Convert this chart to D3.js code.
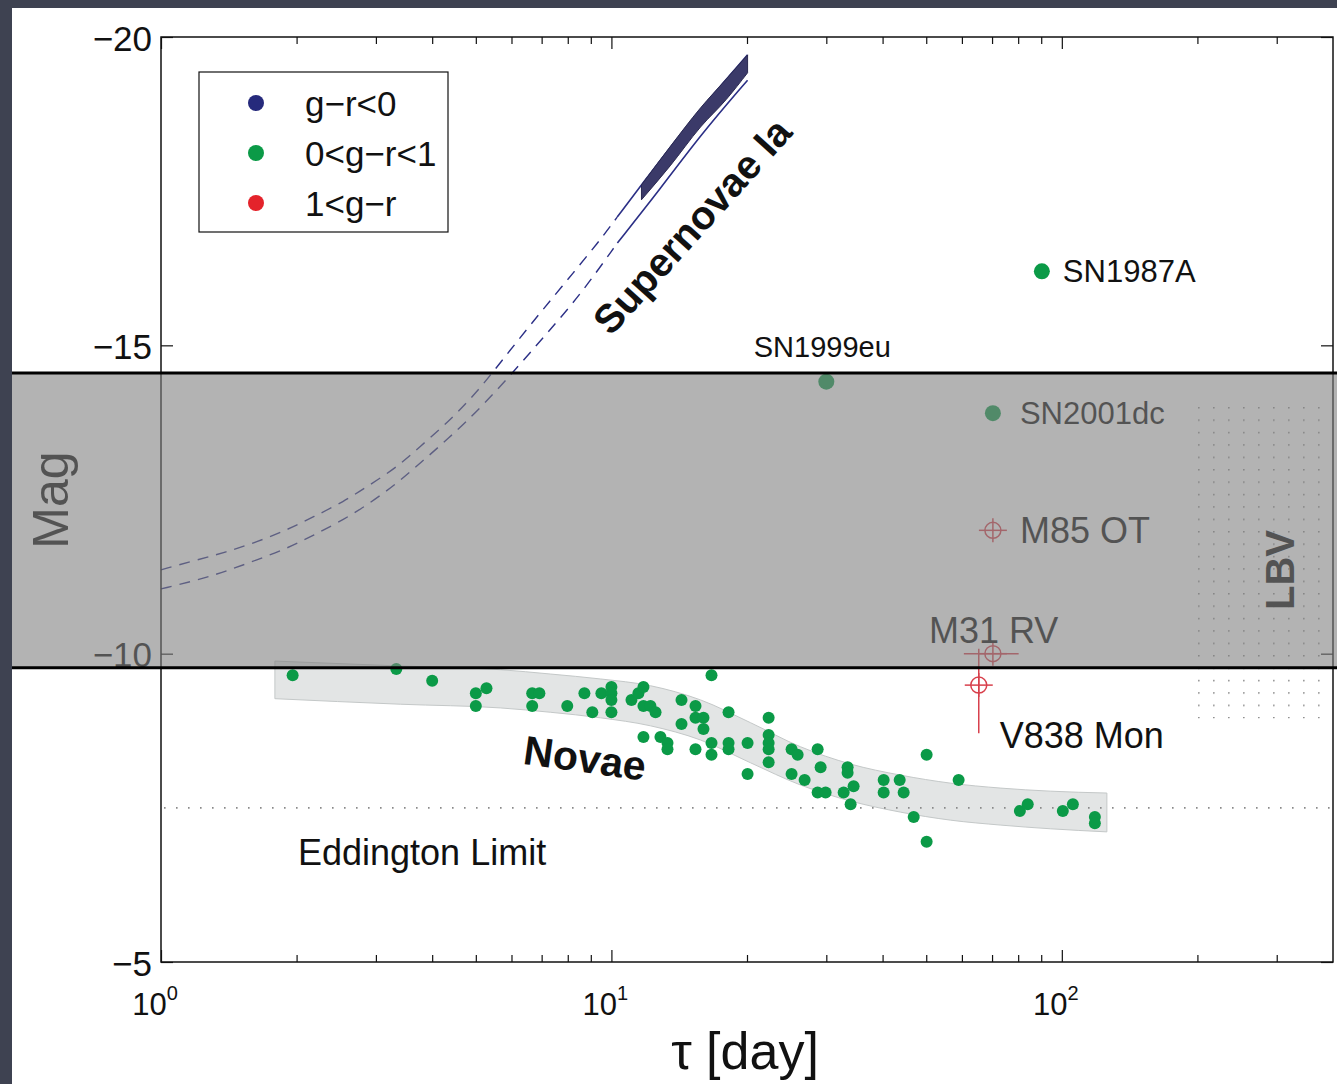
<!DOCTYPE html>
<html>
<head>
<meta charset="utf-8">
<script src="https://cdn.jsdelivr.net/npm/d3@7"></script>
<style>
  html, body { margin: 0; padding: 0; background: #3e4251; }
  svg { display: block; }
  text { font-family: "Liberation Sans", Arial, Helvetica, sans-serif; }
</style>
</head>
<body>
<svg id="chart" width="1337" height="1084"></svg>
<script>
// ---- data ----
const xTicksMajor = [1, 10, 100];
const xTickExp = ["0", "1", "2"];
const xTicksMinor = [2, 3, 4, 5, 6, 7, 8, 9, 20, 30, 40, 50, 60, 70, 80, 90, 200, 300];
const yTicks = [-20, -15, -10, -5];

const legendLabels = ["g\u2212r<0", "0<g\u2212r<1", "1<g\u2212r"];
const legendColors = ["#262a7c", "#0b9a47", "#e4232b"];

// classical novae (green dots)
const novaTau = [1.96, 3.33, 4.0, 5.0, 5.28, 5.0, 6.67, 6.92, 6.67, 7.98, 8.71, 9.07, 9.5,
  10.0, 10.0, 10.0, 10.0, 11.08, 11.48, 11.78, 11.78, 12.21, 12.53, 11.78, 12.85, 13.32, 13.32,
  14.31, 14.31, 15.37, 15.37, 16.01, 16.01, 16.68, 16.68, 16.68, 15.37, 18.2, 18.2, 18.2,
  20.06, 20.06, 22.34, 22.34, 22.34, 22.34, 22.34, 25.12, 25.91, 25.12, 26.85, 28.7, 29.14,
  28.7, 29.89, 32.78, 33.45, 33.45, 34.49, 33.97, 40.22, 40.22, 43.65, 44.55, 46.9, 50.1,
  50.1, 59.0, 80.7, 84.0, 100.5, 105.8, 118.4, 118.4];
const novaMag = [-9.65, -9.75, -9.56, -9.36, -9.44, -9.15, -9.36, -9.36, -9.15, -9.15, -9.36, -9.05, -9.36,
  -9.46, -9.36, -9.25, -9.05, -9.25, -9.36, -9.46, -9.15, -9.15, -9.05, -8.65, -8.65, -8.55, -8.45,
  -9.25, -8.86, -9.15, -8.96, -8.96, -8.78, -9.65, -8.55, -8.36, -8.45, -9.05, -8.55, -8.45,
  -8.55, -8.05, -8.96, -8.68, -8.55, -8.45, -8.24, -8.45, -8.36, -8.05, -7.95, -8.45, -8.16,
  -7.75, -7.75, -7.75, -8.16, -8.07, -7.85, -7.56, -7.95, -7.75, -7.95, -7.75, -7.35, -8.36,
  -6.95, -7.95, -7.45, -7.56, -7.45, -7.56, -7.35, -7.25];

// grey novae envelope
const novaBandTau = [1.79, 3.40, 5.67, 7.32, 9.45, 12.21, 15.77, 20.37, 26.3, 33.97, 43.87, 56.65, 73.2, 94.5, 125.9];
const novaBandTop = [-9.88, -9.80, -9.74, -9.67, -9.59, -9.48, -9.25, -8.88, -8.49, -8.21, -8.03, -7.90, -7.82, -7.77, -7.74];
const novaBandBottom = [-9.27, -9.18, -9.12, -9.05, -8.96, -8.83, -8.60, -8.23, -7.87, -7.61, -7.43, -7.30, -7.22, -7.16, -7.11];

// supernovae Ia rise tracks
const snUpperTau = [1.0, 1.2, 1.4, 1.63, 1.91, 2.18, 2.54, 2.91, 3.35, 3.76, 4.32, 5.0, 5.67, 6.6, 7.70, 9.45, 10.3, 11.66, 14.98, 20.06];
const snUpperMag = [-11.36, -11.52, -11.65, -11.81, -12.01, -12.22, -12.46, -12.74, -13.03, -13.36, -13.74, -14.22, -14.72, -15.33, -15.92, -16.71, -17.08, -17.60, -18.65, -19.71];
const snLowerTau = [1.0, 1.2, 1.4, 1.63, 1.91, 2.18, 2.54, 2.91, 3.35, 3.76, 4.32, 5.2, 6.28, 7.3, 8.53, 10.31, 12.85, 15.77, 20.06];
const snLowerMag = [-11.05, -11.19, -11.34, -11.52, -11.71, -11.92, -12.17, -12.44, -12.77, -13.09, -13.47, -14.03, -14.70, -15.25, -15.82, -16.66, -17.54, -18.41, -19.30];
const snSolidFrom = 10.3;
const snFillTau = [11.66, 13.5, 15.77, 18.0, 20.06];
const snFillTop = [-17.60, -18.22, -18.85, -19.32, -19.71];
const snFillBottom = [-17.36, -17.91, -18.54, -18.99, -19.42];

// named supernovae (green)
const snNames = ["SN1987A", "SN1999eu", "SN2001dc"];
const snTau = [90.3, 30.0, 70.3];
const snMag = [-16.2, -14.41, -13.9];

// red transients with error bars
const otNames = ["M85 OT", "M31 RV", "V838 Mon"];
const otTau = [70.3, 70.3, 65.4];
const otMag = [-12.0, -10.0, -9.49];
const otTauLo = [70.3, 60.6, 65.4];
const otTauHi = [70.3, 80.2, 65.4];
const otMagLo = [-12.0, -10.0, -10.08];
const otMagHi = [-12.0, -10.0, -8.71];

const eddingtonMag = -7.5;
const gapBand = [-14.55, -9.77];
const lbvTau = [193, 400];
const lbvMag = [-14.1, -8.95];

// ---- drawing ----
const svg = d3.select("#chart");
const W = 1337, H = 1084;
const green = "#0b9a47", red = "#d8404c", navy = "#2b2f86";

const x = d3.scaleLog().domain([1, 400]).range([161, 1333]);
const y = d3.scaleLinear().domain([-20, -5]).range([37, 962]);

// dark slide frame + white panel
svg.append("rect").attr("width", W).attr("height", H).attr("fill", "#3e4251");
svg.append("rect").attr("x", 12).attr("y", 8).attr("width", W - 12).attr("height", H - 8).attr("fill", "#fff");

const defs = svg.append("defs");
const pat = defs.append("pattern").attr("id", "lbvdots")
  .attr("patternUnits", "userSpaceOnUse").attr("width", 15).attr("height", 12.4)
  .attr("x", 1198).attr("y", 407);
pat.append("circle").attr("cx", 0.8).attr("cy", 0.8).attr("r", 0.9).attr("fill", "#8a8a8a");

// LBV region
svg.append("rect")
  .attr("x", x(lbvTau[0])).attr("y", y(lbvMag[0]))
  .attr("width", x(lbvTau[1]) - x(lbvTau[0]) - 2)
  .attr("height", y(lbvMag[1]) - y(lbvMag[0]))
  .attr("fill", "url(#lbvdots)");

// novae envelope
const bandData = novaBandTau.map((t, i) => ({t, top: novaBandTop[i], bot: novaBandBottom[i]}));
svg.append("path").datum(bandData)
  .attr("d", d3.area().x(d => x(d.t)).y0(d => y(d.bot)).y1(d => y(d.top)).curve(d3.curveMonotoneX))
  .attr("fill", "#e3e5e5").attr("stroke", "#c4c8c8").attr("stroke-width", 1);

// Eddington limit
svg.append("line")
  .attr("x1", x(1) + 3).attr("x2", x(400)).attr("y1", y(eddingtonMag)).attr("y2", y(eddingtonMag))
  .attr("stroke", "#8a8a8a").attr("stroke-width", 1.6).attr("stroke-dasharray", "1.6,10.4");

// SN Ia tracks
const line = d3.line().x(d => x(d.t)).y(d => y(d.m)).curve(d3.curveBasis);
[[snUpperTau, snUpperMag], [snLowerTau, snLowerMag]].forEach(([ts, ms]) => {
  const pts = ts.map((t, i) => ({t, m: ms[i]}));
  svg.append("path").datum(pts.filter(d => d.t <= snSolidFrom + 0.05))
    .attr("d", line).attr("fill", "none").attr("stroke", navy)
    .attr("stroke-width", 1.4).attr("stroke-dasharray", "11,8");
  svg.append("path").datum(pts.filter(d => d.t >= snSolidFrom - 0.05))
    .attr("d", line).attr("fill", "none").attr("stroke", navy).attr("stroke-width", 1.6);
});
const fillData = snFillTau.map((t, i) => ({t, top: snFillTop[i], bot: snFillBottom[i]}));
svg.append("path").datum(fillData)
  .attr("d", d3.area().x(d => x(d.t)).y0(d => y(d.bot)).y1(d => y(d.top)).curve(d3.curveMonotoneX))
  .attr("fill", "#3b3a69").attr("stroke", "#2a2950").attr("stroke-width", 1);

// novae dots
svg.append("g").selectAll("circle")
  .data(novaTau.map((t, i) => ({t, m: novaMag[i]})))
  .join("circle")
  .attr("cx", d => x(d.t)).attr("cy", d => y(d.m)).attr("r", 6).attr("fill", green);

// named SNe
const snOffsets = [[21, 11, "start", 31], [-4, -25, "middle", 29], [27, 11, "start", 31]];
const snG = svg.append("g");
snNames.forEach((n, i) => {
  snG.append("circle").attr("cx", x(snTau[i])).attr("cy", y(snMag[i])).attr("r", 8).attr("fill", green);
  const o = snOffsets[i];
  snG.append("text").attr("x", x(snTau[i]) + o[0]).attr("y", y(snMag[i]) + o[1])
    .attr("text-anchor", o[2]).attr("font-size", o[3]).attr("fill", "#111").text(n);
});

// red transients
const otOffsets = [[27, 13, "start"], [-64, -11, "start"], [21, 63, "start"]];
const otG = svg.append("g").attr("stroke", red).attr("fill", "none").attr("stroke-width", 1.5);
otNames.forEach((n, i) => {
  const cx = x(otTau[i]), cy = y(otMag[i]);
  otG.append("line").attr("x1", x(otTauLo[i])).attr("x2", x(otTauHi[i])).attr("y1", cy).attr("y2", cy);
  otG.append("line").attr("x1", cx).attr("x2", cx).attr("y1", y(otMagLo[i])).attr("y2", y(otMagHi[i]));
  otG.append("line").attr("x1", cx - 14).attr("x2", cx + 14).attr("y1", cy).attr("y2", cy);
  otG.append("line").attr("x1", cx).attr("x2", cx).attr("y1", cy - 12).attr("y2", cy + 12);
  otG.append("circle").attr("cx", cx).attr("cy", cy).attr("r", 8);
  const o = otOffsets[i];
  svg.append("text").attr("x", cx + o[0]).attr("y", cy + o[1]).attr("text-anchor", o[2])
    .attr("font-size", 36).attr("fill", "#111").text(n);
});

// annotations
svg.append("text").attr("transform", "translate(692,226) rotate(-48)")
  .attr("text-anchor", "middle").attr("dy", "0.35em")
  .attr("font-size", 40).attr("font-weight", "bold").attr("fill", "#111").text("Supernovae Ia");
svg.append("text").attr("transform", "translate(585,758) rotate(8)")
  .attr("text-anchor", "middle").attr("dy", "0.35em")
  .attr("font-size", 41).attr("font-weight", "bold").attr("fill", "#111").text("Novae");
svg.append("text").attr("x", 298).attr("y", 865).attr("font-size", 36).attr("fill", "#111").text("Eddington Limit");
svg.append("text").attr("transform", "translate(1280,570) rotate(-90)")
  .attr("text-anchor", "middle").attr("dy", "0.35em")
  .attr("font-size", 40).attr("font-weight", "bold").attr("fill", "#111").text("LBV");

// legend
const lg = svg.append("g");
lg.append("rect").attr("x", 199).attr("y", 72).attr("width", 249).attr("height", 160)
  .attr("fill", "#fff").attr("stroke", "#111").attr("stroke-width", 1.2);
legendLabels.forEach((l, i) => {
  lg.append("circle").attr("cx", 256).attr("cy", 103 + i * 50).attr("r", 8).attr("fill", legendColors[i]);
  lg.append("text").attr("x", 305).attr("y", 103 + i * 50).attr("dy", "0.36em")
    .attr("font-size", 35).attr("fill", "#111").text(l);
});

// axes
const ax = svg.append("g");
ax.append("rect").attr("x", x(1)).attr("y", y(-20)).attr("width", x(400) - x(1)).attr("height", y(-5) - y(-20))
  .attr("fill", "none").attr("stroke", "#111").attr("stroke-width", 1.5);

function styleAxis(g) {
  g.select(".domain").remove();
  g.selectAll(".tick line").attr("stroke", "#111").attr("stroke-width", 1.2);
}
ax.append("g").attr("transform", `translate(0,${y(-5)})`)
  .call(d3.axisBottom(x).tickValues(xTicksMajor).tickSize(-12).tickFormat(""))
  .call(styleAxis);
ax.append("g").attr("transform", `translate(0,${y(-5)})`)
  .call(d3.axisBottom(x).tickValues(xTicksMinor).tickSize(-7).tickFormat(""))
  .call(styleAxis);
ax.append("g").attr("transform", `translate(0,${y(-20)})`)
  .call(d3.axisTop(x).tickValues(xTicksMajor).tickSize(-12).tickFormat(""))
  .call(styleAxis);
ax.append("g").attr("transform", `translate(0,${y(-20)})`)
  .call(d3.axisTop(x).tickValues(xTicksMinor).tickSize(-7).tickFormat(""))
  .call(styleAxis);
ax.append("g").attr("transform", `translate(${x(1)},0)`)
  .call(d3.axisLeft(y).tickValues(yTicks).tickSize(-12).tickPadding(9))
  .call(styleAxis)
  .call(g => g.selectAll(".tick text").attr("font-size", 35).attr("fill", "#111")
    .attr("font-family", "'Liberation Sans', Arial, sans-serif").attr("x", -9).attr("dy", "0.38em"));
ax.append("g").attr("transform", `translate(${x(400)},0)`)
  .call(d3.axisRight(y).tickValues(yTicks).tickSize(-12).tickFormat(""))
  .call(styleAxis);

// x tick labels with exponents
const xl = ax.append("g").selectAll("text").data(xTicksMajor).join("text")
  .attr("x", d => x(d) - 6).attr("y", 1015).attr("text-anchor", "middle")
  .attr("font-size", 31).attr("fill", "#111");
xl.append("tspan").text("10");
xl.append("tspan").attr("dy", -15).attr("font-size", 20).text((d, i) => xTickExp[i]);

svg.append("text").attr("x", 745).attr("y", 1069).attr("text-anchor", "middle")
  .attr("font-size", 52).attr("fill", "#111").text("\u03c4 [day]");
svg.append("text").attr("transform", "translate(50,500) rotate(-90)")
  .attr("text-anchor", "middle").attr("dy", "0.35em")
  .attr("font-size", 50).attr("fill", "#111").text("Mag");

// grey overlay band between novae and supernovae
svg.append("rect").attr("x", 12).attr("y", y(gapBand[0])).attr("width", W - 12)
  .attr("height", y(gapBand[1]) - y(gapBand[0])).attr("fill", "rgb(128,128,128)").attr("fill-opacity", 0.6);
gapBand.forEach(m => {
  svg.append("line").attr("x1", 12).attr("x2", W).attr("y1", y(m)).attr("y2", y(m))
    .attr("stroke", "#000").attr("stroke-width", 3);
});
</script>
</body>
</html>
